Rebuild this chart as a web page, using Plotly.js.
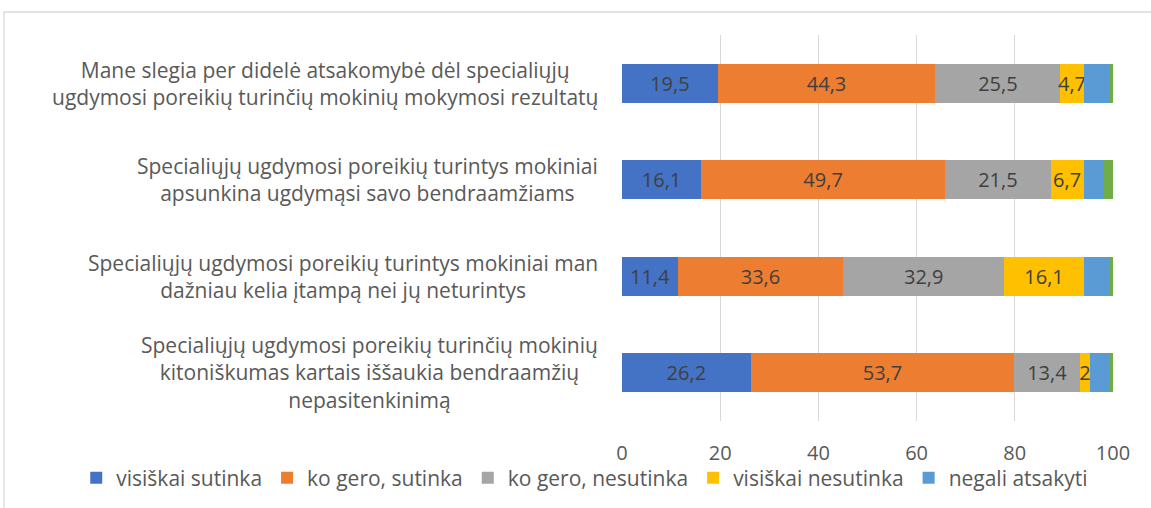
<!DOCTYPE html>
<html>
<head>
<meta charset="utf-8">
<script src="https://cdn.plot.ly/plotly-3.0.1.min.js"></script>
<style>
html,body{margin:0;padding:0;background:#fff;overflow:hidden;}
#chart{width:1151px;height:508px;}
</style>
</head>
<body>
<div id="chart"></div>
<script>
const categories = [
  "Mane slegia per didelė atsakomybė dėl specialiųjų<br>ugdymosi poreikių turinčių mokinių mokymosi rezultatų",
  "Specialiųjų ugdymosi poreikių turintys mokiniai<br>apsunkina ugdymąsi savo bendraamžiams",
  "Specialiųjų ugdymosi poreikių turintys mokiniai man<br>dažniau kelia įtampą nei jų neturintys",
  "Specialiųjų ugdymosi poreikių turinčių mokinių<br>kitoniškumas kartais iššaukia bendraamžių<br>nepasitenkinimą"
];
const seriesNames = ["visiškai sutinka", "ko gero, sutinka", "ko gero, nesutinka", "visiškai nesutinka", "negali atsakyti", ""];
const visiskaiSutinka   = [19.5, 16.1, 11.4, 26.2];
const koGeroSutinka     = [44.3, 49.7, 33.6, 53.7];
const koGeroNesutinka   = [25.5, 21.5, 32.9, 13.4];
const visiskaiNesutinka = [4.7, 6.7, 16.1, 2];
const negaliAtsakyti    = [5.3, 4.0, 5.3, 3.9];
const kita              = [0.7, 2.0, 0.7, 0.8];
const tickValues = [0, 20, 40, 60, 80, 100];

const colors = ["#4472C4", "#ED7D31", "#A5A5A5", "#FFC000", "#5B9BD5", "#70AD47"];
const allSeries = [visiskaiSutinka, koGeroSutinka, koGeroNesutinka, visiskaiNesutinka, negaliAtsakyti, kita];
const labelled = [true, true, true, true, false, false];
const FONT = "'Open Sans', Lato, sans-serif";

const traces = allSeries.map((vals, i) => ({
  type: "bar",
  orientation: "h",
  name: seriesNames[i],
  x: vals,
  y: categories,
  marker: {color: colors[i], line: {width: 0}},
  text: labelled[i] ? vals.map(v => String(v).replace(".", ",")) : undefined,
  textposition: labelled[i] ? "inside" : "none",
  insidetextanchor: "middle",
  textangle: 0,
  constraintext: "none",
  cliponaxis: false,
  insidetextfont: {family: FONT, size: 20, color: "#404040"},
  showlegend: i < 5,
  hoverinfo: "x+name"
}));

const annotations = categories.map(c => ({
  text: c,
  xref: "paper", yref: "y",
  x: -0.045, y: c,
  xanchor: "right", yanchor: "middle",
  align: "center",
  showarrow: false,
  font: {family: FONT, size: 21, color: "#595959"}
}));

const layout = {
  width: 1151, height: 508,
  margin: {l: 622, r: 38, t: 35, b: 87, pad: 0, autoexpand: false},
  paper_bgcolor: "#ffffff",
  plot_bgcolor: "#ffffff",
  barmode: "stack",
  bargap: 0.6,
  font: {family: FONT, color: "#595959", size: 20},
  xaxis: {
    range: [0, 100],
    tickvals: tickValues,
    ticktext: tickValues.map(String),
    showgrid: true, gridcolor: "#D9D9D9", gridwidth: 1,
    zeroline: false, showline: false,
    ticks: "",
    ticklabelstandoff: 18,
    tickfont: {family: FONT, size: 20, color: "#595959"},
    fixedrange: true
  },
  yaxis: {
    type: "category",
    autorange: "reversed",
    showticklabels: false,
    showgrid: false, zeroline: false, showline: false,
    ticks: "",
    fixedrange: true
  },
  legend: {
    orientation: "h",
    xref: "paper", yref: "paper",
    x: -1.1115, xanchor: "left",
    y: -0.148, yanchor: "middle",
    traceorder: "normal",
    font: {family: FONT, size: 21, color: "#595959"},
    itemwidth: 30,
    bgcolor: "rgba(0,0,0,0)"
  },
  annotations: annotations,
  shapes: [{
    type: "rect", xref: "paper", yref: "paper",
    x0: -1.2587, x1: 1.2, y0: -0.3, y1: 1.0596,
    line: {color: "#D9D9D9", width: 1.3},
    fillcolor: "rgba(0,0,0,0)",
    layer: "below"
  }],
  showlegend: true
};

Plotly.newPlot("chart", traces, layout, {displayModeBar: false, staticPlot: true});
</script>
</body>
</html>
